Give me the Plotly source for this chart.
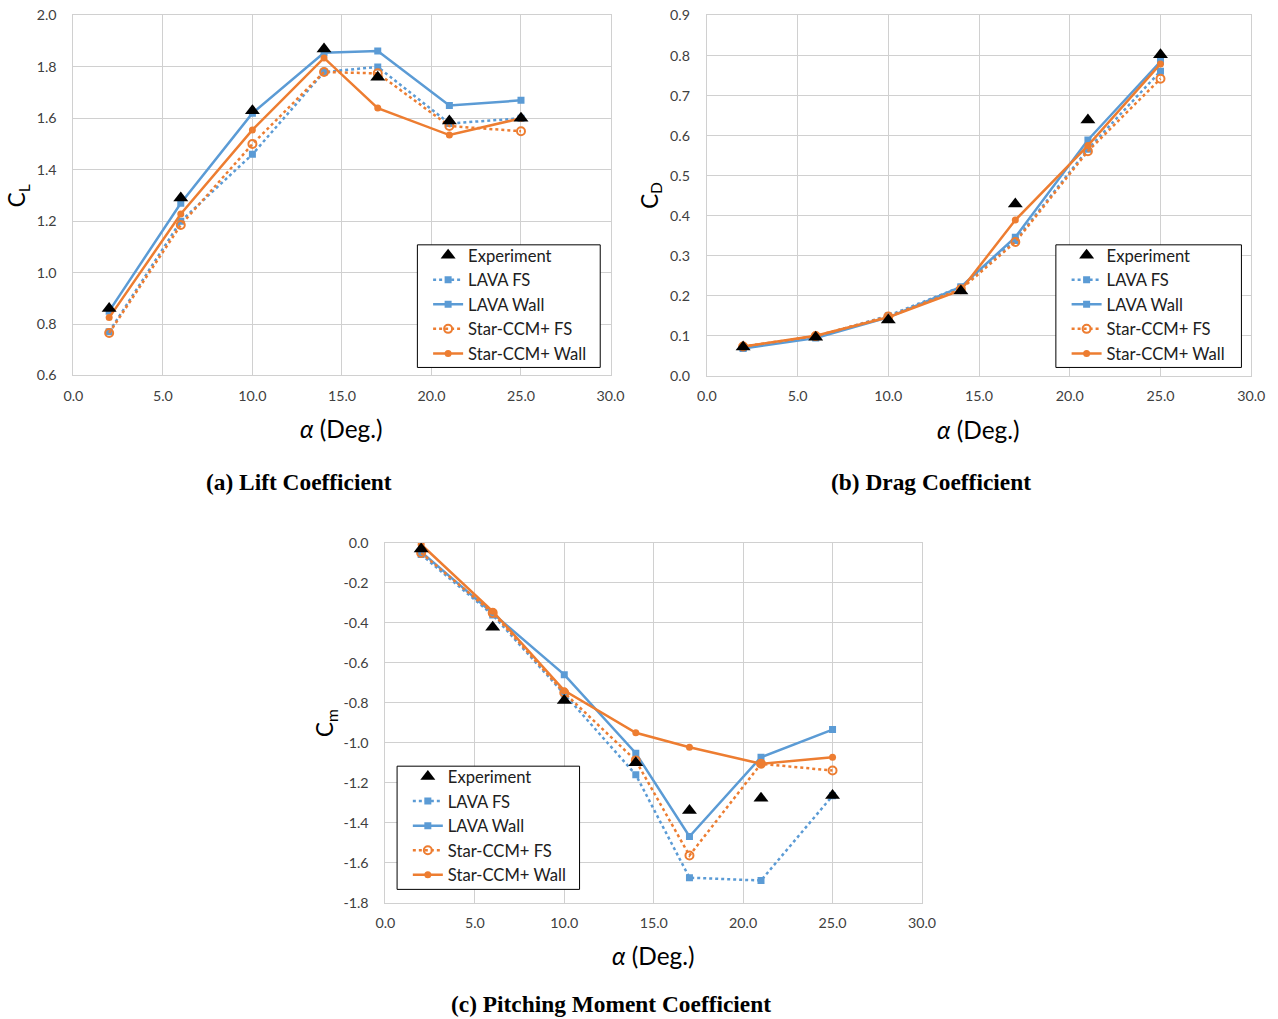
import plotly.graph_objects as go

# ---------------- data ----------------
alpha = [2, 6, 10, 14, 17, 21, 25]

cl_exp = [0.86, 1.29, 1.63, 1.87, 1.76, 1.59, 1.60]
cl_lava_fs = [0.77, 1.20, 1.46, 1.78, 1.80, 1.58, 1.60]
cl_lava_wall = [0.85, 1.27, 1.62, 1.855, 1.862, 1.65, 1.67]
cl_star_fs = [0.765, 1.185, 1.50, 1.78, 1.775, 1.57, 1.55]
cl_star_wall = [0.825, 1.228, 1.555, 1.835, 1.64, 1.535, 1.60]

cd_exp = [0.072, 0.096, 0.139, 0.212, 0.429, 0.639, 0.802]
cd_lava_fs = [0.070, 0.097, 0.150, 0.222, 0.338, 0.566, 0.761]
cd_lava_wall = [0.068, 0.094, 0.146, 0.222, 0.346, 0.589, 0.785]
cd_star_fs = [0.073, 0.099, 0.148, 0.216, 0.334, 0.561, 0.742]
cd_star_wall = [0.073, 0.100, 0.146, 0.214, 0.389, 0.575, 0.779]

cm_exp = [-0.03, -0.422, -0.789, -1.10, -1.339, -1.277, -1.264]
cm_lava_fs = [-0.058, -0.36, -0.756, -1.16, -1.675, -1.689, -1.265]
cm_lava_wall = [-0.045, -0.352, -0.659, -1.052, -1.469, -1.072, -0.934]
cm_star_fs = [-0.05, -0.35, -0.75, -1.089, -1.564, -1.105, -1.139]
cm_star_wall = [-0.008, -0.342, -0.739, -0.95, -1.022, -1.105, -1.072]

cm_tickvals = [0.0, -0.2, -0.4, -0.6, -0.8, -1.0, -1.2, -1.4, -1.6, -1.8]
cm_ticktext = ["0.0", "-0.2", "-0.4", "-0.6", "-0.8", "-1.0", "-1.2", "-1.4", "-1.6", "-1.8"]

series_names = ["Experiment", "LAVA FS", "LAVA Wall", "Star-CCM+ FS", "Star-CCM+ Wall"]
y_titles = ["C<sub>L</sub>", "C<sub>D</sub>", "C<sub>m</sub>"]
x_title = "<i>α</i> (Deg.)"
captions = ["(a) Lift Coefficient", "(b) Drag Coefficient", "(c) Pitching Moment Coefficient"]

BLUE = "#5B9BD5"
ORANGE = "#ED7D31"
GRID = "#d0d0d0"
FONT = "Lato"

W, H = 1278, 1019

# the photographed page is slightly scaled/offset; map target pixels to layout pixels
KX, OX, KY, OY = 0.982, 9.3, 0.984, 8.0
KF = 0.983


def ix(t):
    return (t - OX) / KX


def iy(t):
    return (t - OY) / KY


def px_x(t):
    return ix(t) / W


def px_y(t):
    return 1 - iy(t) / H


def fs(s):
    return s / KF


fig = go.Figure()

panels = [
    dict(data=[cl_exp, cl_lava_fs, cl_lava_wall, cl_star_fs, cl_star_wall],
         xd=[px_x(72.7), px_x(610.3)], yd=[px_y(374.7), px_y(14.5)],
         yr=[0.6, 2.0], dt=0.2, box=(417, 244, 600, 366.7)),
    dict(data=[cd_exp, cd_lava_fs, cd_lava_wall, cd_star_fs, cd_star_wall],
         xd=[px_x(706.7), px_x(1251.5)], yd=[px_y(375), px_y(14.5)],
         yr=[0.0, 0.9], dt=0.1, box=(1056, 244, 1241.7, 366.7)),
    dict(data=[cm_exp, cm_lava_fs, cm_lava_wall, cm_star_fs, cm_star_wall],
         xd=[px_x(385), px_x(922)], yd=[px_y(902.3), px_y(542.3)],
         yr=[-1.8, 0.0], dt=0.2, box=(396.7, 765.7, 579.3, 889),
         tickvals=cm_tickvals, ticktext=cm_ticktext),
]

LEG_FONT = 16.6
layout_axes = {}
shapes = []
for i, p in enumerate(panels):
    n = i + 1
    xa = "x" if n == 1 else f"x{n}"
    ya = "y" if n == 1 else f"y{n}"
    leg = "legend" if n == 1 else f"legend{n}"
    exp, lfs, lw, sfs, sw = p["data"]
    fig.add_trace(go.Scatter(x=alpha, y=lfs, name=series_names[1], mode="lines+markers",
                             line=dict(color=BLUE, width=2.5, dash="dot"),
                             marker=dict(symbol="square", size=7, color=BLUE),
                             xaxis=xa, yaxis=ya, legend=leg, legendrank=2))
    fig.add_trace(go.Scatter(x=alpha, y=lw, name=series_names[2], mode="lines+markers",
                             line=dict(color=BLUE, width=2.5),
                             marker=dict(symbol="square", size=7, color=BLUE),
                             xaxis=xa, yaxis=ya, legend=leg, legendrank=3))
    fig.add_trace(go.Scatter(x=alpha, y=sfs, name=series_names[3], mode="lines+markers",
                             line=dict(color=ORANGE, width=2.5, dash="dot"),
                             marker=dict(symbol="circle-open", size=8, color=ORANGE,
                                         line=dict(width=2, color=ORANGE)),
                             xaxis=xa, yaxis=ya, legend=leg, legendrank=4))
    fig.add_trace(go.Scatter(x=alpha, y=sw, name=series_names[4], mode="lines+markers",
                             line=dict(color=ORANGE, width=2.5),
                             marker=dict(symbol="circle", size=7, color=ORANGE),
                             xaxis=xa, yaxis=ya, legend=leg, legendrank=5))
    fig.add_trace(go.Scatter(x=alpha, y=exp, name=series_names[0], mode="markers",
                             marker=dict(symbol="triangle-up", size=13, color="black"),
                             xaxis=xa, yaxis=ya, legend=leg, legendrank=1))

    axcommon = dict(showgrid=True, gridcolor=GRID, gridwidth=1, zeroline=False,
                    showline=True, linecolor=GRID, linewidth=1, mirror=True,
                    ticks="", tickfont=dict(family=FONT, size=fs(14), color="#404040"))
    layout_axes["xaxis" if n == 1 else f"xaxis{n}"] = dict(
        domain=p["xd"], range=[0, 30], dtick=5, tickformat=".1f",
        anchor=ya, ticklabelstandoff=7, **axcommon)
    yax = dict(domain=p["yd"], range=p["yr"], dtick=p["dt"], tickformat=".1f",
               anchor=xa, ticklabelstandoff=13, **axcommon)
    if "tickvals" in p:
        yax.update(tickmode="array", tickvals=p["tickvals"], ticktext=p["ticktext"])
    layout_axes["yaxis" if n == 1 else f"yaxis{n}"] = yax

    bx0, by0, bx1, by1 = p["box"]
    shapes.append(dict(type="rect", xref="paper", yref="paper",
                       x0=px_x(bx0), x1=px_x(bx1), y0=px_y(by1), y1=px_y(by0),
                       fillcolor="white", line=dict(color="black", width=1), layer="above"))
    text_left = ix(bx0 + 51.5)
    first_row = iy(by0 + 11.5)
    layout_axes[leg] = dict(x=(text_left - 41.5) / W, y=1 - (first_row - 18.8) / H,
                            xanchor="left", yanchor="top",
                            bgcolor="rgba(0,0,0,0)", borderwidth=0,
                            font=dict(family=FONT, size=LEG_FONT, color="#202020"),
                            traceorder="normal", itemwidth=30)

fig.update_layout(**layout_axes)

annotations = []
for txt, x, y in zip(y_titles, [18, 650, 325], [194.6, 194.8, 722]):
    annotations.append(dict(text=txt, x=px_x(x), y=px_y(y), xref="paper", yref="paper",
                            showarrow=False, textangle=-90,
                            font=dict(family=FONT, size=fs(22), color="black"),
                            xanchor="center", yanchor="middle"))
for x, y in [(341.5, 428), (979, 429), (653.5, 955)]:
    annotations.append(dict(text=x_title, x=px_x(x), y=px_y(y), xref="paper", yref="paper",
                            showarrow=False, font=dict(family=FONT, size=fs(24), color="black"),
                            xanchor="center", yanchor="middle"))
for txt, x, y in zip(captions, [299, 931, 611], [481, 481, 1004]):
    annotations.append(dict(text=f"<b>{txt}</b>", x=px_x(x), y=px_y(y), xref="paper", yref="paper",
                            showarrow=False, font=dict(family="Liberation Serif", size=fs(23), color="black"),
                            xanchor="center", yanchor="middle"))

fig.update_layout(annotations=annotations, shapes=shapes, width=W, height=H,
                  margin=dict(l=0, r=0, t=0, b=0),
                  paper_bgcolor="white", plot_bgcolor="white",
                  showlegend=True)

fig.write_html("out.html", config={"displayModeBar": False},
               post_script="document.body.style.margin='0';"
                           "document.documentElement.style.overflow='hidden';")
